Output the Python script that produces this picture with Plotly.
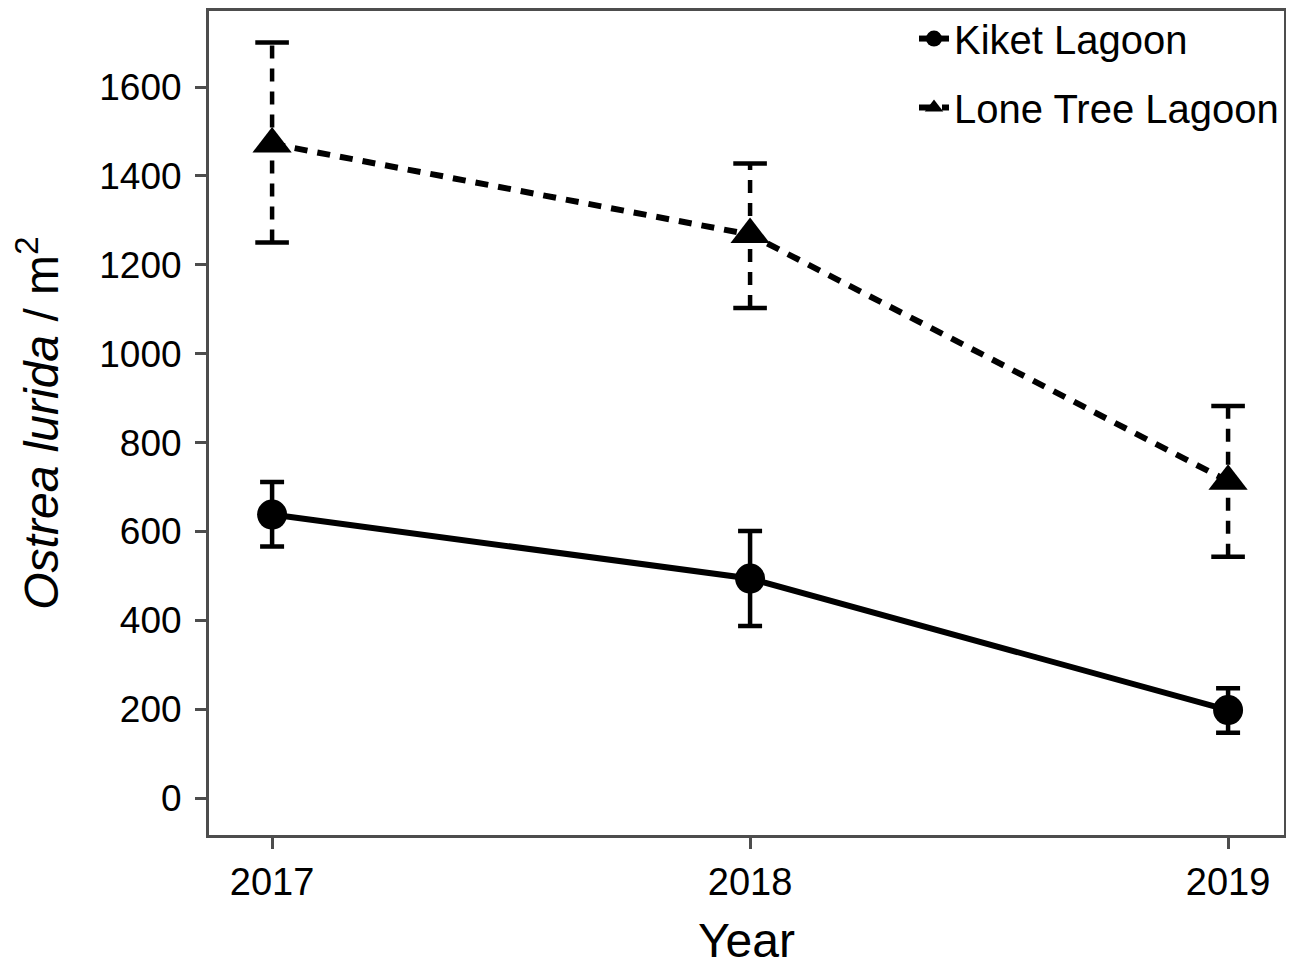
import plotly.graph_objects as go

years = [2017, 2018, 2019]
kiket_mean = [638, 494, 198]
kiket_hi = [711, 601, 247]
kiket_lo = [566, 387, 147]
lone_mean = [1472, 1268, 713]
lone_hi = [1700, 1428, 882]
lone_lo = [1250, 1103, 543]

FONT = "Liberation Sans, Arial, sans-serif"
AX = "#4d4d4d"
DASH = "13px,10px"

fig = go.Figure()

# Kiket Lagoon: solid line with solid error bars
fig.add_trace(go.Scatter(
    x=years, y=kiket_mean, mode="lines+markers", name="Kiket Lagoon",
    legendgroup="k",
    line=dict(color="black", width=6),
    marker=dict(symbol="circle", size=30, color="black"),
    error_y=dict(type="data", symmetric=False,
                 array=[h - m for h, m in zip(kiket_hi, kiket_mean)],
                 arrayminus=[m - l for m, l in zip(kiket_mean, kiket_lo)],
                 color="black", thickness=4.5, width=12),
))

# Lone Tree Lagoon: dashed error bars drawn as line segments
ex, ey = [], []
for x, lo, hi in zip(years, lone_lo, lone_hi):
    ex += [x, x, None]
    ey += [lo, hi, None]
fig.add_trace(go.Scatter(
    x=ex, y=ey, mode="lines", showlegend=False, hoverinfo="skip",
    legendgroup="l",
    line=dict(color="black", width=4.5, dash=DASH),
))
fig.add_trace(go.Scatter(
    x=years + years, y=lone_hi + lone_lo, mode="markers", showlegend=False,
    hoverinfo="skip", legendgroup="l",
    marker=dict(symbol="line-ew", size=24, line=dict(color="black", width=4.5)),
))
fig.add_trace(go.Scatter(
    x=years, y=lone_mean, mode="lines+markers", name="Lone Tree Lagoon",
    legendgroup="l",
    line=dict(color="black", width=6, dash=DASH),
    marker=dict(symbol="triangle-up", size=34, color="black"),
))

# page body has an 8px default margin, so the figure is sized/offset for it
fig.update_layout(
    width=1286, height=959,
    margin=dict(l=201, r=10, t=3, b=132, autoexpand=False),
    plot_bgcolor="white", paper_bgcolor="white",
    font=dict(family=FONT, color="black", size=38),
    legend=dict(x=1.0, y=1.006, xanchor="right", yanchor="top",
                bgcolor="rgba(0,0,0,0)", font=dict(size=40, family=FONT),
                tracegroupgap=14),
    showlegend=True,
)
fig.update_xaxes(
    range=[2016.868, 2019.117], tickvals=years, ticktext=[str(y) for y in years],
    showgrid=False, zeroline=False, showline=True, linecolor=AX, linewidth=3,
    mirror=True, ticks="outside", ticklen=11, tickwidth=3, tickcolor=AX,
    tickfont=dict(size=38, family=FONT),
    title=dict(text="Year", font=dict(size=48, family=FONT), standoff=38),
)
fig.update_yaxes(
    range=[-83, 1771], tickvals=[0, 200, 400, 600, 800, 1000, 1200, 1400, 1600],
    showgrid=False, zeroline=False, showline=True, linecolor=AX, linewidth=3,
    mirror=True, ticks="outside", ticklen=11, tickwidth=3, tickcolor=AX,
    tickfont=dict(size=37, family=FONT), ticklabelstandoff=6,
    title=dict(text="<i>Ostrea lurida</i> / m<sup>2</sup>",
               font=dict(size=48, family=FONT), standoff=36),
)

fig.write_html("out.html")
